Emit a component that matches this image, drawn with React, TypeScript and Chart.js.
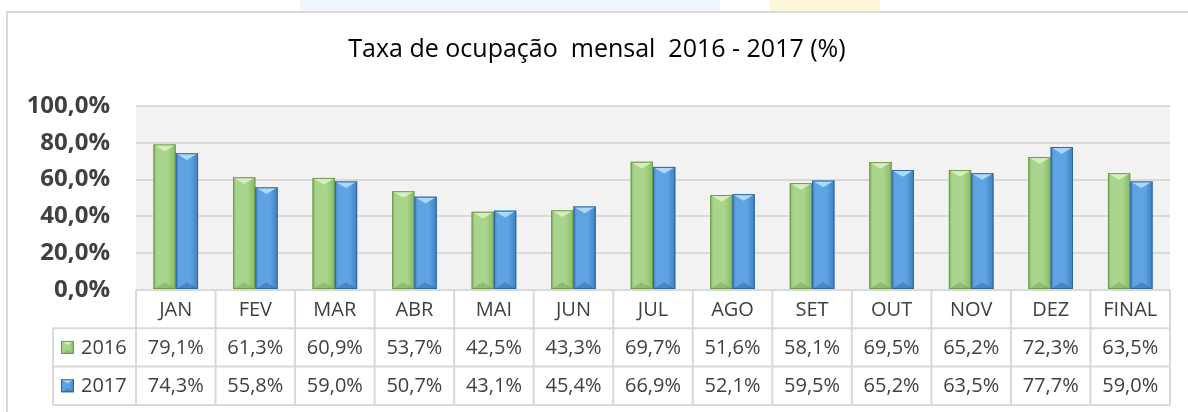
import React, { useEffect, useRef } from 'react';
import { Chart, registerables } from 'chart.js';
Chart.register(...registerables);

const categories = ['JAN', 'FEV', 'MAR', 'ABR', 'MAI', 'JUN', 'JUL', 'AGO', 'SET', 'OUT', 'NOV', 'DEZ', 'FINAL'];
const series2016 = [79.1, 61.3, 60.9, 53.7, 42.5, 43.3, 69.7, 51.6, 58.1, 69.5, 65.2, 72.3, 63.5];
const series2017 = [74.3, 55.8, 59.0, 50.7, 43.1, 45.4, 66.9, 52.1, 59.5, 65.2, 63.5, 77.7, 59.0];
const seriesLabels = ['2016', '2017'];
const yTickValues = [0, 20, 40, 60, 80, 100];
const titleText = 'Taxa de ocupação  mensal  2016 - 2017 (%)';

const FONT = "'Open Sans', 'Noto Sans', sans-serif";
const fmt = (v: number) => v.toFixed(1).replace('.', ',') + '%';

const palettes = [
  { base: '#a3cf83', light: '#d6eebf', mid: '#a9d48b', edge: '#86b963', dark: '#6d9a4c', shade: 'rgba(90,130,60,0.3)' },
  { base: '#5b9fe0', light: '#acd9f8', mid: '#5ea3e2', edge: '#3f80c3', dark: '#30659c', shade: 'rgba(30,70,120,0.3)' },
];

type Pal = typeof palettes[number];

function drawBevel(ctx: CanvasRenderingContext2D, left: number, top: number, right: number, bottom: number, pal: Pal) {
  const w = right - left;
  const h = bottom - top;
  if (h <= 0) return;
  const cx = (left + right) / 2;
  const g = ctx.createLinearGradient(left, 0, right, 0);
  g.addColorStop(0, pal.edge);
  g.addColorStop(0.15, pal.mid);
  g.addColorStop(0.65, pal.mid);
  g.addColorStop(1, pal.edge);
  ctx.fillStyle = g;
  ctx.fillRect(left, top, w, h);
  const bh = Math.min(w * 0.3, h / 2);
  ctx.beginPath();
  ctx.moveTo(left, top);
  ctx.lineTo(right, top);
  ctx.lineTo(cx, top + bh);
  ctx.closePath();
  ctx.fillStyle = pal.light;
  ctx.fill();
  ctx.beginPath();
  ctx.moveTo(left, bottom);
  ctx.lineTo(cx, bottom - bh);
  ctx.lineTo(right, bottom);
  ctx.closePath();
  ctx.fillStyle = pal.shade;
  ctx.fill();
  ctx.strokeStyle = pal.dark;
  ctx.lineWidth = 1;
  ctx.strokeRect(left + 0.5, top + 0.5, w - 1, h - 1);
}

const plotBg = {
  id: 'plotBg',
  beforeDraw(chart: any) {
    const { ctx, chartArea: a } = chart;
    ctx.save();
    ctx.fillStyle = '#f2f2f2';
    ctx.fillRect(a.left, a.top, a.right - a.left, a.bottom - a.top);
    ctx.restore();
  },
};

const bevelBars = {
  id: 'bevelBars',
  afterDatasetsDraw(chart: any) {
    const ctx = chart.ctx;
    ctx.save();
    chart.data.datasets.forEach((_: any, di: number) => {
      const meta = chart.getDatasetMeta(di);
      meta.data.forEach((el: any) => {
        const p = el.getProps(['x', 'y', 'base', 'width'], true);
        drawBevel(ctx, p.x - p.width / 2, Math.min(p.y, p.base), p.x + p.width / 2, Math.max(p.y, p.base), palettes[di]);
      });
    });
    ctx.restore();
  },
};

const dataTable = {
  id: 'dataTable',
  afterDraw(chart: any) {
    const { ctx, chartArea: a } = chart;
    const n = categories.length;
    const cw = (a.right - a.left) / n;
    const rowH = 38.3;
    const top = a.bottom;
    const r1 = top + rowH;
    const r2 = r1 + rowH;
    const r3 = r2 + rowH;
    const legLeft = 53;
    ctx.save();
    ctx.strokeStyle = '#d9d9d9';
    ctx.lineWidth = 2;
    ctx.beginPath();
    ctx.moveTo(a.left, top); ctx.lineTo(a.right, top);
    [r1, r2, r3].forEach((y) => { ctx.moveTo(legLeft, y); ctx.lineTo(a.right, y); });
    ctx.moveTo(legLeft, r1); ctx.lineTo(legLeft, r3);
    for (let i = 0; i <= n; i++) {
      const x = a.left + i * cw;
      ctx.moveTo(x, top); ctx.lineTo(x, r3);
    }
    ctx.stroke();

    ctx.fillStyle = '#404040';
    ctx.font = `20px ${FONT}`;
    ctx.textAlign = 'center';
    ctx.textBaseline = 'middle';
    const xs = chart.scales.x;
    categories.forEach((c, i) => {
      const x = xs.getPixelForValue(i);
      ctx.fillText(c, x, (top + r1) / 2 + 1);
      ctx.fillText(fmt(series2016[i]), x, (r1 + r2) / 2 + 1);
      ctx.fillText(fmt(series2017[i]), x, (r2 + r3) / 2 + 1);
    });
    [[r1, r2], [r2, r3]].forEach(([y0, y1], k) => {
      const cy = (y0 + y1) / 2;
      const s = 13;
      drawBevel(ctx, legLeft + 8, cy - s / 2, legLeft + 8 + s, cy + s / 2, palettes[k]);
      ctx.fillStyle = '#404040';
      ctx.textAlign = 'left';
      ctx.fillText(seriesLabels[k], legLeft + 28, cy + 1);
    });
    ctx.restore();
  },
};

export default function App() {
  const ref = useRef<HTMLCanvasElement>(null);
  useEffect(() => {
    if (!ref.current) return;
    const chart = new Chart(ref.current, {
      type: 'bar',
      data: {
        labels: categories,
        datasets: [
          { label: seriesLabels[0], data: series2016, backgroundColor: palettes[0].base, borderWidth: 0 },
          { label: seriesLabels[1], data: series2017, backgroundColor: palettes[1].base, borderWidth: 0 },
        ],
      },
      options: {
        responsive: false,
        animation: false,
        devicePixelRatio: 1,
        layout: { padding: { left: 24, right: 18, top: 0, bottom: 122 } },
        datasets: { bar: { categoryPercentage: 0.56, barPercentage: 1 } } as any,
        plugins: {
          legend: { display: false },
          tooltip: { enabled: false },
          title: {
            display: true,
            text: titleText,
            color: '#000000',
            font: { family: FONT, size: 25, weight: 'normal' as any, lineHeight: 1.2 },
            padding: { top: 35, bottom: 41 },
          },
        },
        scales: {
          x: { display: false, offset: true, grid: { display: false } },
          y: {
            min: 0,
            max: 100,
            afterBuildTicks: (scale: any) => { scale.ticks = yTickValues.map((v) => ({ value: v })); },
            afterFit: (scale: any) => { scale.width = 112; },
            border: { display: false },
            grid: { color: '#d9d9d9', lineWidth: 2, drawTicks: false },
            ticks: {
              padding: 26,
              color: '#404040',
              font: { family: FONT, size: 24, weight: 'bold' as any },
              callback: (v: any) => fmt(Number(v)),
            },
          },
        },
      },
      plugins: [plotBg, bevelBars, dataTable],
    });
    return () => chart.destroy();
  }, []);

  return (
    <div style={{ position: 'fixed', left: 0, top: 0, width: 1188, height: 412, background: '#ffffff', overflow: 'hidden' }}>
      <div style={{ position: 'absolute', left: 300, top: 0, width: 420, height: 11, background: '#eef5fc' }} />
      <div style={{ position: 'absolute', left: 770, top: 0, width: 110, height: 11, background: '#fcf6da' }} />
      <div style={{ position: 'absolute', left: 6, top: 11, width: 1200, height: 420, border: '2px solid #d9d9d9', background: '#ffffff' }} />
      <canvas ref={ref} width={1188} height={412} style={{ position: 'absolute', left: 0, top: 0, display: 'block' }} />
    </div>
  );
}
